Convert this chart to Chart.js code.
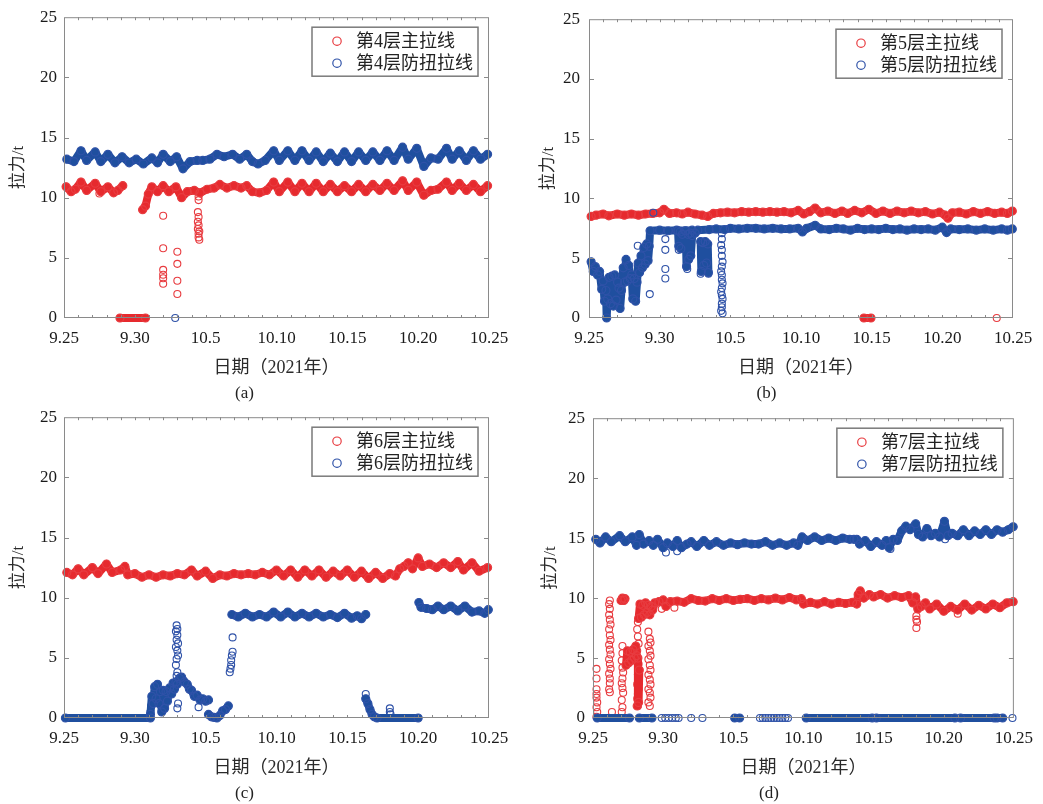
<!DOCTYPE html>
<html>
<head>
<meta charset="utf-8">
<script src="https://cdn.jsdelivr.net/npm/chart.js@4"></script>
<style>
  body { margin: 0; background: #fff; width: 1043px; height: 804px; position: relative; overflow: hidden; }
  canvas { position: absolute; }
</style>
</head>
<body>
<canvas id="ca" width="520" height="404" style="left:0;top:0"></canvas>
<canvas id="cb" width="523" height="404" style="left:520px;top:0"></canvas>
<canvas id="cc" width="520" height="404" style="left:0;top:400px"></canvas>
<canvas id="cd" width="523" height="404" style="left:520px;top:400px"></canvas>
<script>
/* axes: x is days after 9.25 */
const xTickDays = [0, 5, 10, 15, 20, 25, 30];
const xTickLabels = ["9.25", "9.30", "10.5", "10.10", "10.15", "10.20", "10.25"];
const yTickValues = [0, 5, 10, 15, 20, 25];
const xTitle = "日期（2021年）";
const yTitle = "拉力/t";

/* (a) 4th layer: bands are [day, t] segments, dots are single readings */
const a4Labels = ["第4层主拉线", "第4层防扭拉线"];
const a4MainBand = [
  [[0.15,10.9],[0.5,10.5],[0.8,10.7],[1.2,11.3],[1.6,10.6],[2.2,11.2],[2.6,10.5],[3.1,10.9],[3.5,10.4],[3.8,10.6],[4.15,11.0]],
  [[3.95,0],[5.75,0]],
  [[5.55,9.0],[5.75,9.3],[5.95,10.3],[6.2,10.9],[6.6,10.5],[7.0,11.0],[7.4,10.5],[7.9,10.9],[8.3,10.0],[8.7,10.5],[9.2,10.6],[9.6,10.4],[10.1,10.7],[10.6,10.8],[11.0,11.1],[11.5,10.8],[12.0,11.0],[12.5,10.8],[12.9,11.0],[13.3,10.5],[13.8,10.4],[14.3,10.6],[14.8,11.3],[15.2,10.5],[15.8,11.3],[16.3,10.5],[16.8,11.2],[17.3,10.5],[17.8,11.2],[18.3,10.5],[18.8,11.1],[19.3,10.5],[19.8,11.0],[20.3,10.5],[20.8,11.1],[21.3,10.5],[21.8,11.1],[22.3,10.6],[22.8,11.2],[23.3,10.6],[23.9,11.4],[24.3,10.6],[24.9,11.3],[25.4,10.2],[25.9,10.6],[26.4,10.7],[27.0,11.3],[27.4,10.6],[27.9,11.2],[28.4,10.6],[28.9,11.1],[29.4,10.5],[29.9,11.0]]
];
const a4MainDots = [[2.5,10.35],[7.0,8.5],[7.0,5.8],[7.0,4.0],[7.0,3.6],[7.0,3.3],[7.0,2.85],[8.0,5.5],[8.0,4.5],[8.0,3.1],[8.0,2.0],
  [9.5,10.1],[9.5,9.8],[9.45,8.8],[9.5,8.4],[9.45,8.0],[9.5,7.7],[9.45,7.4],[9.55,7.2],[9.5,7.0],[9.5,6.7],[9.55,6.5]];
const a4GuyBand = [
  [[0.2,13.2],[0.7,13.0],[1.2,13.9],[1.6,13.1],[2.2,13.8],[2.6,13.0],[3.1,13.6],[3.6,12.9],[4.1,13.4],[4.6,12.9],[5.1,13.2],[5.6,12.8],[6.2,13.3],[6.6,12.9],[7.0,13.6],[7.5,13.0],[7.95,13.4],[8.4,12.4],[8.9,13.0],[9.4,13.1],[9.8,13.1],[10.3,13.2],[10.8,13.6],[11.3,13.4],[11.9,13.6],[12.4,13.2],[12.9,13.6],[13.3,13.0],[13.7,12.8],[14.2,13.1],[14.8,13.9],[15.2,13.1],[15.8,13.9],[16.3,13.1],[16.8,13.9],[17.3,13.1],[17.8,13.8],[18.3,13.0],[18.8,13.7],[19.3,13.0],[19.8,13.8],[20.3,13.0],[20.8,13.8],[21.3,13.1],[21.8,13.8],[22.3,13.1],[22.8,13.9],[23.3,13.1],[23.9,14.2],[24.3,13.2],[24.9,14.1],[25.4,12.6],[25.9,13.3],[26.4,13.2],[27.0,14.1],[27.4,13.2],[27.9,13.9],[28.4,13.1],[28.9,13.9],[29.4,13.2],[29.9,13.6]]
];
const a4GuyDots = [[7.85,0]];

/* (b) 5th layer */
const b5Labels = ["第5层主拉线", "第5层防扭拉线"];
const b5MainBand = [
  [[0.15,8.5],[0.5,8.6],[1.0,8.7],[1.4,8.55],[2.0,8.7],[2.5,8.6],[3.0,8.7],[3.5,8.6],[4.0,8.7],[4.5,8.75],[5.0,8.8],[5.3,9.1],[5.7,8.75],[6.2,8.8],[6.6,8.7],[7.0,8.85],[7.5,8.7],[8.0,8.6],[8.4,8.5],[8.8,8.75],[9.3,8.8],[9.8,8.85],[10.3,8.8],[10.8,8.9],[11.3,8.85],[11.8,8.9],[12.3,8.85],[12.8,8.9],[13.3,8.85],[13.8,8.9],[14.3,8.8],[14.8,9.0],[15.2,8.7],[15.6,8.9],[16.0,9.2],[16.4,8.8],[16.9,8.95],[17.4,8.75],[17.9,8.95],[18.3,8.75],[18.8,9.0],[19.3,8.8],[19.8,9.1],[20.3,8.75],[20.8,8.95],[21.3,8.75],[21.8,8.95],[22.3,8.8],[22.8,8.95],[23.3,8.8],[23.8,8.9],[24.3,8.7],[24.8,8.85],[25.2,8.6],[25.4,8.35],[25.7,8.8],[26.2,8.85],[26.7,8.7],[27.2,8.9],[27.7,8.75],[28.2,8.9],[28.7,8.75],[29.2,8.85],[29.6,8.75],[29.95,8.95]],
  [[19.45,0],[19.95,0]]
];
const b5MainDots = [[28.85,0]];
const b5GuyBand = [
  [[0.15,4.7],[0.3,3.9],[0.45,4.3],[0.6,3.6],[0.75,3.9],[0.9,2.4],[1.0,3.1],[1.1,1.4],[1.2,2.3],[1.25,0.0],[1.32,1.6],[1.42,3.4],[1.52,1.2],[1.62,3.5],[1.72,1.0],[1.82,3.6],[1.92,1.5],[2.02,3.0],[2.12,2.5],[2.2,0.8],[2.3,2.3],[2.42,4.2],[2.52,3.0],[2.62,4.9],[2.72,3.1],[2.82,4.4],[2.92,3.3],[3.02,3.6],[3.1,1.6],[3.2,3.3],[3.3,1.4],[3.4,3.0],[3.48,4.6],[3.58,3.8],[3.68,5.2],[3.78,4.2],[3.88,5.9],[3.98,4.5],[4.08,6.2],[4.18,4.8],[4.26,6.0],[4.32,7.3],[5.0,7.35],[5.6,7.3],[6.2,7.35],[6.8,7.3],[7.3,7.35],[7.5,7.1],[7.7,7.35],[8.5,7.4],[9.0,7.45],[9.6,7.4],[10.0,7.5],[10.6,7.45],[11.2,7.5],[11.8,7.5],[12.4,7.45],[13.0,7.5],[13.6,7.45],[14.2,7.45],[14.8,7.5],[15.1,7.2],[15.4,7.5],[16.0,7.75],[16.4,7.45],[17.0,7.4],[17.5,7.5],[18.0,7.45],[18.5,7.35],[19.0,7.5],[19.5,7.4],[20.0,7.45],[20.5,7.4],[21.0,7.5],[21.5,7.4],[22.0,7.45],[22.5,7.35],[23.0,7.45],[23.5,7.4],[24.0,7.45],[24.5,7.35],[25.0,7.6],[25.3,7.15],[25.6,7.45],[26.2,7.4],[26.8,7.45],[27.4,7.35],[28.0,7.45],[28.6,7.35],[29.2,7.45],[29.6,7.35],[29.95,7.45]],
  [[6.3,7.3],[6.35,6.0],[6.45,7.2],[6.5,5.8],[6.6,7.0]],
  [[6.85,7.3],[6.9,4.3],[7.0,7.0],[7.05,4.9],[7.15,7.1],[7.2,5.2],[7.3,6.9]],
  [[7.9,6.4],[7.95,3.9],[8.05,6.3],[8.12,4.4],[8.22,6.4],[8.32,4.6],[8.4,6.2],[8.45,3.8]]
];
const b5GuyDots = [[3.45,6.05],[4.3,2.0],[4.55,8.8],[5.4,6.6],[5.4,5.7],[5.4,4.1],[5.4,3.3],[6.35,5.7],[6.95,4.1],[8.45,3.7],[7.9,3.7],
  [9.4,7.1],[9.4,6.6],[9.35,6.1],[9.4,5.7],[9.4,5.2],[9.45,4.7],[9.4,4.3],[9.35,3.9],[9.4,3.6],[9.4,3.2],[9.45,2.9],[9.4,2.5],[9.35,2.2],[9.4,1.9],[9.45,1.6],[9.4,1.2],[9.4,0.9],[9.35,0.6],[9.45,0.4]];

/* (c) 6th layer */
const c6Labels = ["第6层主拉线", "第6层防扭拉线"];
const c6MainBand = [
  [[0.2,12.1],[0.6,11.9],[1.0,12.4],[1.4,11.9],[2.0,12.5],[2.4,12.0],[3.0,12.8],[3.4,12.1],[4.0,12.3],[4.3,12.6],[4.5,11.9],[5.0,12.0],[5.5,11.7],[6.0,11.9],[6.5,11.7],[7.0,11.9],[7.5,11.8],[8.0,12.0],[8.5,11.9],[9.0,12.3],[9.4,11.8],[10.0,12.2],[10.5,11.6],[11.0,11.9],[11.5,11.8],[12.0,12.0],[12.5,11.9],[13.0,12.0],[13.5,11.9],[14.0,12.1],[14.5,11.9],[15.0,12.3],[15.5,11.8],[16.0,12.3],[16.5,11.7],[17.0,12.3],[17.5,11.8],[18.0,12.3],[18.5,11.7],[19.0,12.2],[19.5,11.8],[20.0,12.3],[20.5,11.7],[21.0,12.2],[21.5,11.6],[22.0,12.1],[22.5,11.6],[23.0,12.0],[23.4,11.8],[23.7,12.4],[24.0,12.6],[24.3,12.9],[24.6,12.4],[25.0,13.3],[25.3,12.6],[25.8,12.8],[26.3,12.5],[26.8,12.9],[27.3,12.5],[27.8,13.0],[28.2,12.3],[28.8,12.9],[29.3,12.2],[29.9,12.5]]
];
const c6MainDots = [];
const c6GuyBand = [
  [[0.1,0],[6.1,0]],
  [[6.1,0.3],[6.2,1.8],[6.3,1.2],[6.4,2.6],[6.5,1.6],[6.6,2.8],[6.7,1.2],[6.8,2.2],[6.9,0.5],[7.0,2.3],[7.1,0.8],[7.2,2.2],[7.3,1.4],[7.45,2.5],[7.6,2.0],[7.7,2.9],[7.8,2.4],[7.9,3.0],[8.0,2.8],[8.15,3.3],[8.3,3.4],[8.5,3.0],[8.7,2.8],[8.85,2.4],[9.0,2.3],[9.2,1.8],[9.4,1.9],[9.6,1.5],[9.8,1.6],[10.0,1.4],[10.2,1.5]],
  [[10.2,0.3],[10.4,0.1],[10.6,0.05],[10.8,0.0],[11.0,0.2],[11.2,0.6],[11.4,0.7],[11.6,1.0]],
  [[11.85,8.6],[12.3,8.4],[12.8,8.7],[13.3,8.4],[13.8,8.6],[14.3,8.4],[14.8,8.8],[15.3,8.4],[15.8,8.8],[16.3,8.4],[16.8,8.7],[17.3,8.4],[17.8,8.7],[18.3,8.4],[18.8,8.6],[19.3,8.35],[19.8,8.7],[20.3,8.3],[20.7,8.5],[21.0,8.25],[21.3,8.6]],
  [[21.3,1.6],[21.45,1.2],[21.6,0.7],[21.75,0.3],[21.9,0.1],[22.1,0.0],[25.0,0.0]],
  [[25.05,9.6],[25.2,9.2],[25.6,9.1],[26.0,9.0],[26.4,9.3],[26.8,9.0],[27.3,9.3],[27.8,8.9],[28.3,9.3],[28.8,8.8],[29.3,8.9],[29.7,8.7],[29.95,9.0]]
];
const c6GuyDots = [[6.1,0.5],[6.15,1.0],[7.95,7.7],[8.0,7.4],[7.9,7.2],[8.0,6.9],[7.95,6.5],[8.05,6.2],[7.9,5.9],[8.0,5.6],[8.05,5.2],[7.95,4.9],[7.9,4.4],[8.0,3.8],[7.95,3.5],[8.05,1.2],[8.0,0.8],[9.5,0.9],
  [11.7,3.8],[11.75,4.1],[11.8,4.4],[11.8,4.8],[11.85,5.2],[11.9,5.5],[11.9,6.7],[21.3,2.0],[23.0,0.8],[23.0,0.5],[23.05,0.3]];

/* (d) 7th layer */
const d7Labels = ["第7层主拉线", "第7层防扭拉线"];
const d7MainBand = [
  [[2.0,9.8],[2.1,10.0],[2.2,9.8],[2.28,9.95]],
  [[2.35,4.4],[2.45,5.6],[2.55,4.6],[2.65,5.5],[2.75,4.8],[2.85,5.7],[2.95,5.0],[3.05,6.0],[3.1,5.2]],
  [[3.15,1.0],[3.2,5.0],[3.25,1.3],[3.3,4.0]],
  [[3.25,8.3],[3.35,9.5],[3.45,8.4],[3.55,9.4],[3.65,8.6],[3.75,9.6],[3.85,8.8],[3.95,9.4],[4.05,8.6],[4.15,9.3],[4.25,9.0],[4.4,9.6],[4.7,9.7],[5.0,9.85],[5.2,9.3],[5.5,9.7],[6.0,9.75],[6.5,9.65],[7.0,9.95],[7.5,9.8],[8.0,9.75],[8.5,9.95],[9.0,9.8],[9.5,9.95],[10.0,9.8],[10.5,9.9],[11.0,9.95],[11.5,9.8],[12.0,9.95],[12.5,9.85],[13.0,10.0],[13.5,9.85],[14.0,10.05],[14.5,9.85],[14.85,9.95],[15.0,9.5],[15.5,9.65],[16.0,9.5],[16.5,9.7],[17.0,9.5],[17.5,9.65],[18.0,9.55],[18.5,9.65],[18.8,9.5],[18.9,10.3],[19.05,10.6],[19.3,10.0],[19.7,10.3],[20.0,10.1],[20.5,10.3],[21.0,10.0],[21.5,10.2],[22.0,10.05],[22.5,10.2],[22.8,9.6],[23.0,10.1],[23.15,9.1],[23.4,9.3],[23.7,9.6],[24.0,9.1],[24.5,9.5],[25.0,8.9],[25.5,9.3],[26.0,9.0],[26.5,9.5],[27.0,9.0],[27.5,9.4],[28.0,9.1],[28.5,9.5],[29.0,9.2],[29.5,9.6],[29.95,9.7]]
];
const d7MainDots = [[0.25,4.1],[0.25,3.3],[0.25,2.4],[0.25,2.0],[0.25,1.7],[0.3,1.3],[0.25,0.9],[0.3,0.5],[0.25,0.1],
  [0.4,0],[0.6,0],[0.9,0],[1.4,0],[1.9,0],[2.2,0],
  [1.2,9.8],[1.15,9.5],[1.2,9.1],[1.15,8.6],[1.2,8.2],[1.25,7.8],[1.15,7.4],[1.2,6.9],[1.25,6.5],[1.15,6.1],[1.2,5.7],[1.25,5.3],[1.15,4.9],[1.2,4.5],[1.25,4.1],[1.15,3.7],[1.2,3.3],[1.2,2.9],[1.15,2.4],[1.2,2.15],[1.35,0.5],
  [2.1,6.0],[2.1,5.4],[2.05,4.8],[2.1,4.2],[2.15,3.8],[2.1,3.3],[2.05,2.9],[2.1,2.5],[2.15,2.1],[2.05,1.5],[2.1,0.9],[2.05,0.5],
  [3.2,8.0],[3.15,7.4],[3.2,6.8],[3.25,6.2],[3.15,5.6],[3.25,4.5],[3.2,3.6],[3.15,2.8],[3.25,2.4],[3.2,2.0],[3.15,1.6],
  [3.95,7.2],[4.05,6.6],[4.1,6.3],[3.95,6.0],[4.05,5.6],[4.1,5.2],[3.95,4.9],[4.05,4.4],[4.1,4.0],[3.95,3.6],[4.05,3.2],[4.1,2.8],[3.95,2.4],[4.05,2.1],[4.1,1.7],[3.95,1.3],[4.05,1.0],
  [23.05,8.5],[23.05,8.2],[23.1,8.0],[23.05,7.5],[4.9,9.1],[5.8,9.2],[26.0,8.7]];
const d7GuyBand = [
  [[0.2,14.9],[0.5,14.6],[0.9,15.1],[1.3,14.7],[1.9,15.2],[2.3,14.7],[2.8,15.1],[3.1,14.4],[3.3,15.3],[3.6,14.5],[4.0,14.8],[4.3,14.4],[4.6,14.9],[5.0,14.2],[5.3,14.6],[5.7,14.3],[6.0,14.8],[6.3,14.2],[6.7,14.5],[7.0,14.7],[7.4,14.3],[7.9,14.8],[8.3,14.4],[8.8,14.7],[9.3,14.4],[9.8,14.6],[10.3,14.45],[10.8,14.6],[11.3,14.5],[11.8,14.5],[12.3,14.7],[12.8,14.4],[13.3,14.6],[13.8,14.4],[14.3,14.6],[14.6,14.4],[14.9,15.1],[15.3,14.8],[15.8,15.1],[16.3,14.8],[16.8,15.0],[17.3,14.8],[17.8,15.0],[18.3,14.9],[18.6,14.9]],
  [[18.8,14.9],[19.0,14.5],[19.4,14.8],[19.8,14.3],[20.2,14.7],[20.6,14.4],[20.9,14.8],[21.1,14.2],[21.4,14.9],[21.7,14.8],[22.0,15.6],[22.3,16.0],[22.6,15.7],[23.0,16.2],[23.2,15.3],[23.5,15.1],[23.8,15.8],[24.1,15.2],[24.4,15.4],[24.7,15.1],[25.05,16.4],[25.3,15.2],[25.6,15.4],[26.0,15.2],[26.4,15.7],[26.8,15.2],[27.2,15.6],[27.6,15.3],[28.0,15.7],[28.4,15.3],[28.8,15.7],[29.2,15.5],[29.6,15.7],[29.95,15.95]],
  [[0.3,0],[2.6,0]],
  [[3.3,0],[4.2,0]],
  [[10.1,0],[10.45,0]],
  [[15.2,0],[19.9,0]],
  [[20.2,0],[25.8,0]],
  [[26.2,0],[28.6,0]],
  [[28.8,0],[29.2,0]]
];
const d7GuyDots = [[4.9,0],[5.15,0],[5.4,0],[5.65,0],[5.9,0],[6.1,0],[7.0,0],[7.8,0],
  [11.9,0],[12.1,0],[12.3,0],[12.5,0],[12.7,0],[12.9,0],[13.1,0],[13.3,0],[13.5,0],[13.7,0],[13.9,0],[29.9,0],
  [5.2,13.8],[6.0,13.9],[21.2,14.1],[25.1,14.9]];

const RED = "#e62a2e", RED_DOT = "#e83c40";
const BLUE = "#1f4f9f", BLUE_DOT = "#2f52a8";

/* segments -> points with a null break between them */
function toPoints(segs) {
  const out = [];
  segs.forEach((seg, i) => {
    if (i > 0) out.push({x: seg[0][0], y: null});
    seg.forEach(p => out.push({x: p[0], y: p[1]}));
  });
  return out;
}

function bandSet(segs, line, dot, order) {
  return {
    data: toPoints(segs), showLine: true, spanGaps: false,
    borderColor: line, borderWidth: 8, borderJoinStyle: "round", borderCapStyle: "round",
    pointRadius: 4, pointBorderWidth: 1.2, pointBorderColor: dot, pointBackgroundColor: "rgba(0,0,0,0)",
    clip: 10, order: order
  };
}

function dotSet(dots, dot, order) {
  return {
    data: dots.map(p => ({x: p[0], y: p[1]})), showLine: false,
    pointRadius: 3.5, pointBorderWidth: 1.1, pointBorderColor: dot, pointBackgroundColor: "rgba(0,0,0,0)",
    clip: 10, order: order
  };
}

/* box, inward ticks and the boxed legend */
const framePlugin = {
  id: "frameLegend",
  afterDatasetsDraw(chart, args, opts) {
    const {ctx, chartArea: a, scales: {x, y}} = chart;
    ctx.save();
    ctx.strokeStyle = "#8a8a8a";
    ctx.lineWidth = 1;
    ctx.strokeRect(a.left + 0.5, a.top + 0.5, a.right - a.left - 1, a.bottom - a.top - 1);
    ctx.beginPath();
    for (let d = 1; d < 30; d++) {
      const px = Math.round(x.getPixelForValue(d)) + 0.5;
      ctx.moveTo(px, a.bottom); ctx.lineTo(px, a.bottom - 3);
      ctx.moveTo(px, a.top); ctx.lineTo(px, a.top + 3);
    }
    yTickValues.slice(1, -1).forEach(v => {
      const py = Math.round(y.getPixelForValue(v)) + 0.5;
      ctx.moveTo(a.left, py); ctx.lineTo(a.left + 5, py);
      ctx.moveTo(a.right, py); ctx.lineTo(a.right - 5, py);
    });
    ctx.stroke();

    const w = 166, h = 49;
    const bx = a.right - 11 - w, by = a.top + 10;
    ctx.fillStyle = "#fff";
    ctx.fillRect(bx, by, w, h);
    ctx.strokeStyle = "#7a7a7a";
    ctx.lineWidth = 1.5;
    ctx.strokeRect(bx, by, w, h);
    ctx.font = "18px 'Liberation Serif', 'Noto Sans CJK SC', serif";
    ctx.textBaseline = "middle";
    ctx.textAlign = "left";
    [RED_DOT, BLUE_DOT].forEach((c, i) => {
      const cy = by + 14 + i * 22;
      ctx.beginPath();
      ctx.strokeStyle = c;
      ctx.lineWidth = 1.2;
      ctx.arc(bx + 25, cy, 4.2, 0, Math.PI * 2);
      ctx.stroke();
      ctx.fillStyle = "#222";
      ctx.fillText(opts.labels[i], bx + 44, cy + 1);
    });
    ctx.restore();
  }
};

const panels = [
  {id: "ca", axisW: 64, tickPad: 7, padR: 31, padT: 13, yTitlePad: 8, caption: "(a)", labels: a4Labels,
   main: a4MainBand, mainDots: a4MainDots, guy: a4GuyBand, guyDots: a4GuyDots},
  {id: "cb", axisW: 69, tickPad: 9, padR: 30, padT: 13, yTitlePad: 18, caption: "(b)", labels: b5Labels,
   main: b5MainBand, mainDots: b5MainDots, guy: b5GuyBand, guyDots: b5GuyDots},
  {id: "cc", axisW: 64, tickPad: 7, padR: 31, padT: 14, yTitlePad: 8, caption: "(c)", labels: c6Labels,
   main: c6MainBand, mainDots: c6MainDots, guy: c6GuyBand, guyDots: c6GuyDots},
  {id: "cd", axisW: 73, tickPad: 8, padR: 25, padT: 14, yTitlePad: 20, caption: "(d)", labels: d7Labels,
   main: d7MainBand, mainDots: d7MainDots, guy: d7GuyBand, guyDots: d7GuyDots}
];

const serif = "'Liberation Serif', 'Times New Roman', serif";
const cjk = "'Liberation Serif', 'Noto Sans CJK SC', serif";

panels.forEach(p => {
  new Chart(document.getElementById(p.id), {
    type: "scatter",
    data: {
      datasets: [
        bandSet(p.guy, BLUE, BLUE_DOT, 0),
        dotSet(p.guyDots, BLUE_DOT, 0),
        bandSet(p.main, RED, RED_DOT, 1),
        dotSet(p.mainDots, RED_DOT, 1)
      ]
    },
    options: {
      responsive: false,
      animation: false,
      events: [],
      layout: {padding: {left: 0, right: p.padR, top: p.padT, bottom: 0}},
      plugins: {
        legend: {display: false},
        tooltip: {enabled: false},
        title: {display: true, position: "bottom", text: p.caption, color: "#222",
                font: {family: serif, size: 17, weight: "normal", lineHeight: 1.2}, padding: 0},
        frameLegend: {labels: p.labels}
      },
      scales: {
        x: {
          type: "linear", min: 0, max: 30,
          afterBuildTicks: s => { s.ticks = xTickDays.map(v => ({value: v})); },
          afterFit: s => { s.height = 65.6; },
          grid: {display: false, drawTicks: false, tickLength: 0},
          border: {display: false},
          ticks: {autoSkip: false, maxRotation: 0, padding: 10, color: "#1a1a1a",
                  font: {family: serif, size: 17}, callback: (v, i) => xTickLabels[i]},
          title: {display: true, text: xTitle, color: "#2a2a2a", padding: {top: 4, bottom: 5},
                  font: {family: cjk, size: 18, lineHeight: 1.2}}
        },
        y: {
          min: 0, max: 25,
          afterBuildTicks: s => { s.ticks = yTickValues.map(v => ({value: v})); },
          afterFit: s => { s.width = p.axisW; },
          grid: {display: false, drawTicks: false, tickLength: 0},
          border: {display: false},
          ticks: {padding: p.tickPad, color: "#1a1a1a", font: {family: serif, size: 17}},
          title: {display: true, text: yTitle, color: "#2a2a2a", padding: {top: p.yTitlePad, bottom: 0},
                  font: {family: cjk, size: 17, lineHeight: 1.2}}
        }
      }
    },
    plugins: [framePlugin]
  });
});
</script>
</body>
</html>
